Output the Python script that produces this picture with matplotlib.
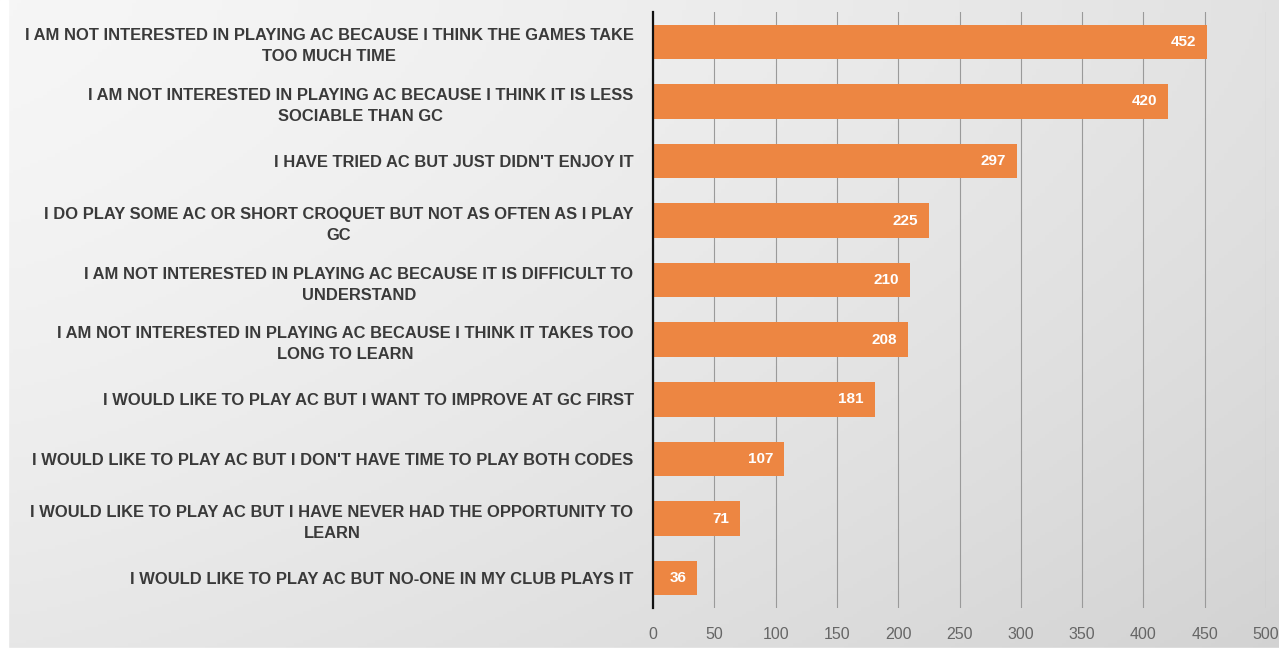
import numpy as np
import matplotlib.pyplot as plt

# reasons, top to bottom
labels = [
    "I AM NOT INTERESTED IN PLAYING AC BECAUSE I THINK THE GAMES TAKE\nTOO MUCH TIME",
    "I AM NOT INTERESTED IN PLAYING AC BECAUSE I THINK IT IS LESS\nSOCIABLE THAN GC",
    "I HAVE TRIED AC BUT JUST DIDN'T ENJOY IT",
    "I DO PLAY SOME AC OR SHORT CROQUET BUT NOT AS OFTEN AS I PLAY\nGC",
    "I AM NOT INTERESTED IN PLAYING AC BECAUSE IT IS DIFFICULT TO\nUNDERSTAND",
    "I AM NOT INTERESTED IN PLAYING AC BECAUSE I THINK IT TAKES TOO\nLONG TO LEARN",
    "I WOULD LIKE TO PLAY AC BUT I WANT TO IMPROVE AT GC FIRST",
    "I WOULD LIKE TO PLAY AC BUT I DON'T HAVE TIME TO PLAY BOTH CODES",
    "I WOULD LIKE TO PLAY AC BUT I HAVE NEVER HAD THE OPPORTUNITY TO\nLEARN",
    "I WOULD LIKE TO PLAY AC BUT NO-ONE IN MY CLUB PLAYS IT",
]
counts = [452, 420, 297, 225, 210, 208, 181, 107, 71, 36]
xticks = [0, 50, 100, 150, 200, 250, 300, 350, 400, 450, 500]

FONT = ["Liberation Sans", "DejaVu Sans"]
BAR = "#ED8642"

fig = plt.figure(figsize=(12.79, 6.53), dpi=100)

# grey gradient backdrop, lighter at top left
bg = fig.add_axes([0, 0, 1, 1])
gx, gy = np.meshgrid(np.linspace(0, 1, 300), np.linspace(0, 1, 200))
shade = 0.965 - 0.08 * gx ** 1.3 - 0.06 * gy ** 1.5
bg.imshow(np.dstack([shade] * 3), aspect="auto", extent=[0, 1, 1, 0])
bg.axvspan(0, 0.006, color="white")
bg.axhspan(0.992, 1.0, color="white")
bg.set_xlim(0, 1)
bg.set_ylim(1, 0)
bg.axis("off")

ax = fig.add_axes([0.5106, 0.069, 0.4792, 0.9126])
ax.patch.set_alpha(0)
y = np.arange(len(labels))
ax.barh(y, counts, height=0.58, color=BAR, zorder=3)
for yi, v in zip(y, counts):
    ax.text(v - 9, yi, str(v), ha="right", va="center", color="white",
            fontsize=11, fontweight="bold", family=FONT, zorder=4)

ax.set_xlim(0, 500)
ax.set_ylim(len(labels) - 0.5, -0.5)
ax.set_xticks(xticks)
ax.set_xticklabels([str(t) for t in xticks], color="#666666", fontsize=11.5, family=FONT)
ax.set_yticks(y)
ax.set_yticklabels(labels, fontsize=11.9, fontweight="bold", color="#3a3a3a",
                   family=FONT, ha="right", multialignment="center",
                   linespacing=1.5)
ax.tick_params(axis="y", length=0, pad=14)
ax.tick_params(axis="x", length=0, pad=14)
ax.grid(axis="x", color="#9a9a9a", linewidth=0.8, zorder=0)
for s in ["top", "right", "bottom"]:
    ax.spines[s].set_visible(False)
ax.spines["left"].set_color("#111111")
ax.spines["left"].set_linewidth(1.6)
ax.spines["left"].set_zorder(5)

fig.savefig("out.png", dpi=100)
